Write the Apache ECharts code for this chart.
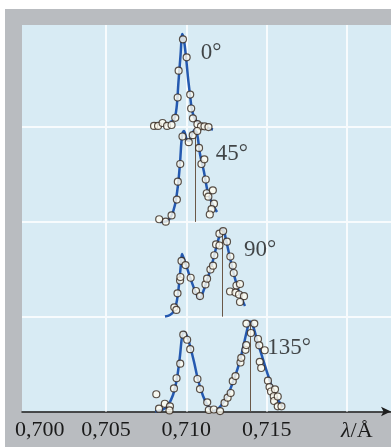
<!DOCTYPE html>
<html>
<head>
<meta charset="utf-8">
<script src="https://cdn.jsdelivr.net/npm/echarts@6/dist/echarts.min.js"></script>
<style>
  html, body { margin: 0; padding: 0; background: #fff; }
  #chart { width: 391px; height: 447px; }
</style>
</head>
<body>
<div id="chart"></div>
<script>
// scattering angles, stacked from top (0°) to bottom (135°)
const angles = ['0°', '45°', '90°', '135°']
const baseLevel = [3, 2, 1, 0]

// measured points (wavelength in Å, relative intensity 0..100)
const pts0Lambda = [0.70799, 0.70824, 0.70852, 0.70880, 0.70908, 0.70931, 0.70946, 0.70952, 0.70979, 0.71002, 0.71024, 0.71030, 0.71041, 0.71069, 0.71091, 0.71113, 0.71138]
const pts0Count = [1.2, 1.2, 4.3, 1.2, 2.2, 9.8, 31.2, 59.5, 92.6, 73.6, 34.3, 19.6, 9.3, 3.1, 0.8, 0.8, 0]

const pts1Lambda = [0.70831, 0.70872, 0.70908, 0.70941, 0.70947, 0.70962, 0.70976, 0.71015, 0.71040, 0.71068, 0.71079, 0.71094, 0.71112, 0.71121, 0.71127, 0.71137, 0.71165, 0.71172, 0.71157, 0.71146]
const pts1Count = [2.8, 0.2, 6.8, 23.6, 42.4, 61.1, 90.1, 84.1, 91.5, 95.9, 78.0, 61.1, 66.0, 44.7, 30.2, 26.6, 33.3, 19.2, 13.4, 7.8]

const pts2Lambda = [0.70925, 0.70938, 0.70945, 0.70961, 0.70963, 0.70970, 0.70995, 0.71027, 0.71060, 0.71085, 0.71119, 0.71129, 0.71150, 0.71166, 0.71174, 0.71185, 0.71206, 0.71206, 0.71229, 0.71253, 0.71274, 0.71289, 0.71295, 0.71312, 0.71334, 0.71272, 0.71306, 0.71328, 0.71359, 0.71334]
const pts2Count = [9.9, 7.1, 24.7, 38.2, 41.9, 58.8, 54.5, 41.1, 27.1, 21.8, 34.0, 40.1, 49.8, 53.8, 64.8, 76.2, 87.6, 75.1, 90.3, 79.1, 63.5, 54.0, 46.1, 32.9, 34.5, 26.6, 25.5, 23.4, 21.6, 15.5]

const pts3Lambda = [0.70813, 0.70830, 0.70866, 0.70898, 0.70895, 0.70923, 0.70939, 0.70962, 0.70981, 0.71005, 0.71024, 0.71069, 0.71085, 0.71130, 0.71140, 0.71171, 0.71210, 0.71238, 0.71257, 0.71276, 0.71289, 0.71306, 0.71337, 0.71342, 0.71368, 0.71373, 0.71374, 0.71423, 0.71402, 0.71446, 0.71454, 0.71488, 0.71457, 0.71466, 0.71508, 0.71518, 0.71527, 0.71552, 0.71544, 0.71546, 0.71569, 0.71569, 0.71592]
const pts3Count = [18.2, 3.0, 8.2, 5.5, 1.1, 24.3, 35.1, 50.4, 81.0, 75.7, 65.7, 34.3, 23.7, 9.7, 1.6, 2.1, 0.5, 9.0, 14.6, 19.5, 32.0, 37.4, 51.7, 56.6, 65.1, 70.1, 92.8, 92.8, 82.8, 76.5, 69.8, 64.6, 52.4, 45.9, 32.5, 25.8, 21.1, 23.4, 16.1, 11.1, 15.8, 5.5, 5.5]

// fitted curves
const fit0Lambda = [0.70898, 0.70923, 0.70939, 0.70951, 0.70964, 0.70975, 0.70985, 0.70998, 0.71010, 0.71023, 0.71035, 0.71054, 0.71085, 0.71122, 0.71166]
const fit0Count = [5.4, 8.0, 20.1, 47.6, 76.1, 98.2, 91.9, 73.9, 52.8, 33.9, 18.0, 8.5, 3.3, -0.4, -2.5]

const fit1Lambda = [0.70836, 0.70873, 0.70905, 0.70929, 0.70948, 0.70961, 0.70973, 0.70985, 0.71004, 0.71017, 0.71035, 0.71051, 0.71066, 0.71085, 0.71110, 0.71135, 0.71166, 0.71191]
const fit1Count = [0, 0.4, 5.7, 17.8, 38.9, 63.2, 90.6, 95.9, 86.4, 85.3, 92.7, 96.9, 93.8, 71.6, 52.6, 30.5, 17.8, 10.4]

const fit2Lambda = [0.70867, 0.70898, 0.70923, 0.70942, 0.70954, 0.70967, 0.70973, 0.70985, 0.71004, 0.71029, 0.71060, 0.71082, 0.71104, 0.71129, 0.71160, 0.71185, 0.71210, 0.71228, 0.71247, 0.71272, 0.71297, 0.71328, 0.71365]
const fit2Count = [0.2, 1.8, 6.0, 17.6, 33.4, 56.6, 66.1, 60.9, 51.4, 38.7, 25.0, 19.2, 26.1, 38.7, 55.6, 72.5, 87.2, 92.5, 80.9, 61.9, 44.0, 26.1, 11.3]

const fit3Lambda = [0.70805, 0.70849, 0.70886, 0.70917, 0.70942, 0.70961, 0.70973, 0.70985, 0.71004, 0.71023, 0.71048, 0.71073, 0.71104, 0.71135, 0.71166, 0.71197, 0.71228, 0.71259, 0.71290, 0.71322, 0.71353, 0.71378, 0.71396, 0.71415, 0.71440, 0.71471, 0.71508, 0.71539, 0.71571, 0.71602]
const fit3Count = [0, 1.6, 6.9, 17.4, 35.3, 59.6, 78.6, 83.9, 79.6, 69.1, 52.2, 33.2, 16.4, 5.8, 0.5, 2.6, 9.0, 17.4, 31.1, 46.9, 67.0, 86.0, 94.9, 90.2, 75.4, 58.5, 38.5, 22.7, 12.1, 4.7]

// shifted (Compton) line position and its height
const shiftLambda = [null, 0.71057, 0.71222, 0.71396]
const shiftTop = [null, 96, 88, 94]

// angle label anchors
const labelLambda = [0.71154, 0.71284, 0.71459, 0.71639]
const labelLevel = [3.78, 2.72, 1.70, 0.67]

// background grid and ticks
const gridLambda = [0.705, 0.710, 0.715, 0.720]
const gridLevel = [1, 2, 3]
const tickLambda = [0.700, 0.705, 0.710, 0.715]

const ptsLambda = [pts0Lambda, pts1Lambda, pts2Lambda, pts3Lambda]
const ptsCount = [pts0Count, pts1Count, pts2Count, pts3Count]
const fitLambda = [fit0Lambda, fit1Lambda, fit2Lambda, fit3Lambda]
const fitCount = [fit0Count, fit1Count, fit2Count, fit3Count]

const serif = '"Liberation Serif", "DejaVu Serif", serif'
const toPairs = (xs, ys, lvl) => xs.map((x, i) => [x, lvl + ys[i] / 100])

const series = []

// white grid lines, drawn under everything
series.push({
  type: 'line',
  data: [],
  z: 1,
  silent: true,
  markLine: {
    z: 1,
    precision: 5,
    silent: true,
    symbol: 'none',
    animation: false,
    label: { show: false },
    lineStyle: { color: '#f7fbfd', width: 2, type: 'solid' },
    data: [
      ...gridLambda.map(v => ({ xAxis: v })),
      ...gridLevel.map(v => ({ yAxis: v }))
    ]
  }
})

angles.forEach((a, k) => {
  const lvl = baseLevel[k]
  const curve = {
    name: a + ' fit',
    type: 'line',
    z: 3,
    smooth: 0.35,
    showSymbol: false,
    data: toPairs(fitLambda[k], fitCount[k], lvl),
    lineStyle: { color: '#2459b0', width: 2.5 },
    animation: false
  }
  if (shiftLambda[k] !== null) {
    curve.markLine = {
      z: 2,
      precision: 5,
      silent: true,
      symbol: 'none',
      animation: false,
      label: { show: false },
      lineStyle: { color: '#6a5848', width: 1, type: 'solid' },
      data: [[
        { coord: [shiftLambda[k], lvl] },
        { coord: [shiftLambda[k], lvl + shiftTop[k] / 100] }
      ]]
    }
  }
  series.push(curve)
  series.push({
    name: a,
    type: 'scatter',
    z: 4,
    symbol: 'circle',
    symbolSize: 7,
    data: toPairs(ptsLambda[k], ptsCount[k], lvl),
    itemStyle: { color: '#fffdf0', borderColor: '#33251c', borderWidth: 1.2 },
    animation: false
  })
})

// angle labels
series.push({
  type: 'scatter',
  z: 5,
  symbolSize: 0,
  silent: true,
  animation: false,
  data: angles.map((a, k) => ({ name: a, value: [labelLambda[k], labelLevel[k]] })),
  label: {
    show: true,
    position: 'inside',
    formatter: p => p.name,
    fontFamily: serif,
    fontSize: 23,
    color: '#1a1a1a'
  }
})

const chart = echarts.init(document.getElementById('chart'))
chart.setOption({
  backgroundColor: '#ffffff',
  animation: false,
  graphic: [
    {
      type: 'rect',
      z: -1,
      silent: true,
      shape: { x: 5, y: 9, width: 386, height: 438 },
      style: { fill: '#b9bcc0' }
    },
    {
      type: 'text',
      z: 10,
      left: 341,
      top: 420,
      style: {
        text: '{i|λ}/Å',
        font: '22px ' + serif,
        fill: '#1a1a1a',
        rich: { i: { fontStyle: 'italic', fontFamily: serif, fontSize: 22, fill: '#1a1a1a' } }
      }
    }
  ],
  grid: {
    left: 22,
    right: 0,
    top: 25,
    bottom: 35.5,
    containLabel: false,
    outerBoundsMode: 'none',
    show: true,
    borderWidth: 0,
    backgroundColor: '#d8ebf4'
  },
  xAxis: {
    type: 'value',
    min: 0.69977,
    max: 0.72274,
    splitLine: { show: false },
    axisTick: { show: false },
    axisLine: {
      show: true,
      symbol: ['none', 'arrow'],
      symbolSize: [7, 10],
      lineStyle: { color: '#1e1e1e', width: 1.5 }
    },
    axisLabel: {
      customValues: tickLambda,
      margin: 8,
      fontFamily: serif,
      fontSize: 22,
      color: '#1a1a1a',
      formatter: v => {
        const s = v.toFixed(3).replace('.', ',')
        return Math.abs(v - 0.7) < 1e-6 ? '{first|' + s + '}' : s
      },
      rich: {
        first: { padding: [0, 0, 0, 28], fontFamily: serif, fontSize: 22, color: '#1a1a1a' }
      }
    }
  },
  yAxis: {
    type: 'value',
    min: 0,
    max: 4.077,
    show: false,
    splitLine: { show: false }
  },
  series
})
</script>
</body>
</html>
